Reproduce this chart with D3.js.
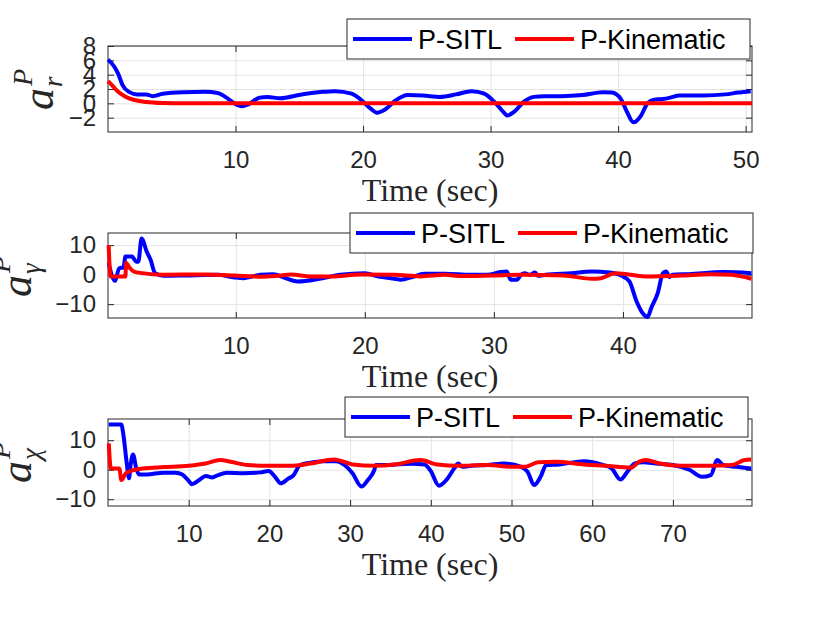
<!DOCTYPE html>
<html>
<head>
<meta charset="utf-8">
<script src="https://cdn.jsdelivr.net/npm/d3@7/dist/d3.min.js"></script>
<style>
  body { margin: 0; background: #fff; }
</style>
</head>
<body>
<script>
// ---- data: [time (sec), value] ----
const arSitl = [[0,6.1],[0.5,5.1],[0.8,4.1],[1.15,2.5],[1.65,1.6],[2.3,1.25],[3,1.25],[3.5,1.0],[4.3,1.35],[5.9,1.55],[7.6,1.6],[8.6,1.45],[9.2,0.9],[9.9,0],[10.5,-0.4],[11,-0.15],[11.9,0.8],[12.5,0.9],[13.5,0.7],[15.1,1.2],[16.8,1.6],[17.8,1.7],[19.1,1.35],[19.9,0.4],[20.6,-0.75],[21.1,-1.3],[21.7,-0.9],[22.55,0.4],[23.5,1.15],[24.7,1.1],[26,0.9],[27.3,1.25],[28.5,1.7],[29.5,1.35],[30.3,0.2],[31,-1.2],[31.3,-1.7],[31.9,-1.1],[32.6,0.2],[33.4,0.9],[34.2,1.0],[35.5,1.0],[37.2,1.15],[38.8,1.55],[39.5,1.5],[40.2,0.65],[40.7,-1.2],[41.2,-2.65],[41.8,-1.7],[42.3,0],[42.8,0.5],[43.5,0.6],[44.1,0.8],[44.8,1.1],[46.7,1.1],[48.4,1.25],[49.4,1.5],[50.4,1.7]];
const arKin = [[0,3.1],[0.33,2.5],[0.8,1.6],[1.3,1.0],[2,0.5],[3,0.2],[4.3,0.05],[5.9,0],[20,0],[35,0],[50.5,0]];

const agSitl = [[0.15,3.9],[0.65,-2.1],[0.97,2.2],[1.3,2.4],[1.45,6.1],[1.95,6.1],[2.3,4.4],[2.45,4.4],[2.7,12.2],[3.1,7.8],[3.4,5],[3.75,0.5],[4.4,-0.4],[6,-0.3],[8.6,-0.05],[9.9,-0.95],[10.6,-1.2],[11.9,-0.05],[12.9,0.15],[13.85,-1.2],[14.8,-2.3],[16.5,-1.4],[18.1,-0.05],[20,0.5],[21,-0.6],[22.3,-1.4],[22.8,-1.7],[23.6,-0.95],[24.6,0.3],[26.2,0.3],[28.2,-0.05],[29.5,-0.05],[30.5,0.85],[31,1.05],[31.3,-1.7],[31.8,-1.7],[32.1,-0.05],[32.4,0.5],[32.75,-0.05],[33.2,0.7],[33.4,-0.4],[34,-0.05],[36,0.5],[37.6,1.05],[38.95,0.7],[39.9,-0.4],[40.5,-2.3],[41.05,-9],[41.55,-13.2],[41.9,-14.4],[42.2,-11.2],[42.7,-6.2],[43.1,0.5],[43.35,1.05],[43.6,-0.8],[43.85,-0.05],[45.1,0.15],[47.75,0.85],[49.95,0.5]];
const agKin = [[0.15,10],[0.3,-0.6],[1.3,-0.6],[1.45,-0.6],[1.5,3.9],[1.8,2.2],[2.1,1.05],[2.75,0.5],[4.4,-0.05],[7.65,0.05],[9.9,-0.3],[11.9,-0.7],[13.2,-0.4],[14.3,0.05],[15.8,-0.6],[17.4,-0.6],[19.7,0.05],[22.3,-0.05],[24.3,-0.6],[26.2,-0.05],[27.5,-0.5],[29.8,-0.3],[32.1,-0.05],[35.4,-0.3],[37.6,-1.4],[38.3,-1.2],[39.4,0.5],[40.6,-0.05],[41.9,-0.6],[44.5,-0.3],[46.8,0.15],[48.4,-0.05],[49.95,-1.4]];

const axSitl = [[0.1,15.3],[1.65,15.3],[1.9,12],[2.3,2.7],[2.6,-2.9],[2.8,1.6],[3.1,5.2],[3.5,0.45],[3.85,-1.6],[4.8,-1.6],[6.9,-1.0],[8.4,-1.0],[9.2,-1.6],[10,-3.8],[10.4,-4.9],[11.3,-3.5],[12.1,-2.1],[12.9,-2.6],[13.65,-1.8],[14.7,-1.0],[16.8,-1.2],[18.9,-0.9],[19.9,-0.45],[20.7,-2.4],[21.4,-4.6],[22.3,-3.1],[23,-1.8],[23.8,1.6],[25.1,2.4],[26.7,2.9],[28.3,2.9],[29.3,1.6],[30.3,-1.2],[31.4,-5.7],[32.2,-3.5],[33,-0.1],[33.2,1.6],[34.5,1.6],[35.6,1.8],[37.6,2.0],[39.2,1.8],[40,-0.45],[41,-5.4],[42.1,-2.9],[42.9,0.45],[43.4,2.1],[43.9,1.0],[45,1.35],[47,1.6],[49.1,2.1],[51.2,1.0],[52,-0.7],[52.8,-5.2],[53.6,-2.4],[54.3,1.6],[55.9,1.8],[59,2.9],[61.1,1.8],[62.4,0.45],[63.5,-3.3],[64.5,-0.1],[65.3,2.1],[66.3,2.5],[67.9,2.1],[70,1.6],[72.1,-0.1],[73.6,-2.4],[74.7,-1.8],[75.5,3.3],[76.2,1.6],[77.8,1.0],[79.7,0.45]];
const axKin = [[0.1,8.9],[0.35,0.45],[1.4,0.45],[1.65,-3.5],[2.2,-1.2],[3.2,-0.1],[4.3,0.45],[6.9,0.9],[10,1.35],[12.1,2.1],[13.9,3.3],[15.2,2.7],[17.3,1.6],[19.9,1.35],[23,1.35],[25.1,2.1],[28,3.5],[30.3,1.8],[33,1.35],[35.6,1.8],[38.7,3.3],[40.8,1.8],[43.4,1.35],[47,1.6],[50.2,1.0],[51.7,1.0],[53.3,2.5],[55.4,2.7],[59,1.8],[61.6,1.35],[64.8,0.7],[65.8,2.7],[66.6,3.3],[68.4,2.1],[71,1.35],[74.7,1.35],[77.3,1.6],[78.9,3.3],[79.7,3.5]];

const xTicksR = [10, 20, 30, 40, 50];
const yTicksR = [-2, 0, 2, 4, 6, 8];
const xTicksG = [10, 20, 30, 40];
const yTicksG = [-10, 0, 10];
const xTicksX = [10, 20, 30, 40, 50, 60, 70];
const yTicksX = [-10, 0, 10];
const seriesNames = ["P-SITL", "P-Kinematic"];
const seriesColors = ["#0000ff", "#ff0000"];
const subscripts = ["r", "\u03b3", "\u03c7"];

const W = 830, H = 623;
const left = 108, right = 752;

const panels = [
  { sitl: arSitl, kin: arKin, xDom: [0, 50.5], yDom: [-4, 8], xTicks: xTicksR, yTicks: yTicksR,
    sub: subscripts[0], top: 46, bottom: 132, legX: 347, legY: 19, labX: 53, labY: 110 },
  { sitl: agSitl, kin: agKin, xDom: [0.1, 50], yDom: [-14.7, 14.1], xTicks: xTicksG, yTicks: yTicksG,
    sub: subscripts[1], top: 233, bottom: 318, legX: 350, legY: 213, labX: 31, labY: 297 },
  { sitl: axSitl, kin: axKin, xDom: [0, 79.8], yDom: [-12.3, 17.2], xTicks: xTicksX, yTicks: yTicksX,
    sub: subscripts[2], top: 419, bottom: 506, legX: 345, legY: 397, labX: 31, labY: 483 }
];

const svg = d3.select("body").append("svg")
    .attr("width", W)
    .attr("height", H)
    .style("display", "block");

const sans = "'Liberation Sans', Arial, Helvetica, sans-serif";
const serif = "'Liberation Serif', 'Times New Roman', serif";
const axisColor = "#262626";

panels.forEach(p => {
  const h = p.bottom - p.top, w = right - left;
  const x = d3.scaleLinear().domain(p.xDom).range([0, w]);
  const y = d3.scaleLinear().domain(p.yDom).range([h, 0]);

  const g = svg.append("g").attr("transform", `translate(${left},${p.top})`);

  // grid
  g.append("g")
      .attr("transform", `translate(0,${h})`)
      .call(d3.axisBottom(x).tickValues(p.xTicks).tickSize(-h).tickFormat(""))
      .call(s => s.select(".domain").remove())
      .call(s => s.selectAll("line").attr("stroke", "#e3e3e3"));
  g.append("g")
      .call(d3.axisLeft(y).tickValues(p.yTicks).tickSize(-w).tickFormat(""))
      .call(s => s.select(".domain").remove())
      .call(s => s.selectAll("line").attr("stroke", "#e3e3e3"));

  // axes with inward ticks
  const styleAxis = s => {
    s.select(".domain").remove();
    s.selectAll("line").attr("stroke", axisColor);
    s.selectAll("text").attr("fill", axisColor).style("font-family", sans).style("font-size", "24px");
  };
  g.append("g")
      .attr("transform", `translate(0,${h})`)
      .call(d3.axisBottom(x).tickValues(p.xTicks).tickSize(-6).tickPadding(19))
      .call(styleAxis);
  g.append("g")
      .call(d3.axisTop(x).tickValues(p.xTicks).tickSize(-6).tickFormat(""))
      .call(styleAxis);
  g.append("g")
      .call(d3.axisLeft(y).tickValues(p.yTicks).tickSize(-6).tickPadding(12))
      .call(styleAxis);
  g.append("g")
      .attr("transform", `translate(${w},0)`)
      .call(d3.axisRight(y).tickValues(p.yTicks).tickSize(-6).tickFormat(""))
      .call(styleAxis);

  g.append("rect")
      .attr("width", w).attr("height", h)
      .attr("fill", "none").attr("stroke", axisColor).attr("stroke-width", 1);

  // series
  const line = d3.line()
      .x(d => x(d[0]))
      .y(d => y(d[1]))
      .curve(d3.curveMonotoneX);

  [p.sitl, p.kin].forEach((data, i) => {
    g.append("path")
        .datum(data)
        .attr("fill", "none")
        .attr("stroke", seriesColors[i])
        .attr("stroke-width", 4)
        .attr("stroke-linejoin", "round")
        .attr("d", line);
  });

  // x label
  svg.append("text")
      .attr("x", left + w / 2)
      .attr("y", p.bottom + 69)
      .attr("text-anchor", "middle")
      .style("font-family", serif)
      .style("font-size", "32px")
      .attr("fill", axisColor)
      .text("Time (sec)");

  // y label: a with superscript P and subscript
  const lab = svg.append("g")
      .attr("transform", `translate(${p.labX},${p.labY}) rotate(-90)`)
      .attr("fill", axisColor)
      .style("font-family", serif)
      .style("font-style", "italic");
  const a = lab.append("text").style("font-size", "44px").text("a");
  const aw = a.node().getComputedTextLength();
  lab.append("text").attr("x", aw + 1).attr("y", 9).style("font-size", "27px").text(p.sub);
  lab.append("text").attr("x", aw + 2).attr("y", -21).style("font-size", "28px").text("P");

  // legend
  const leg = svg.append("g").attr("transform", `translate(${p.legX},${p.legY})`);
  leg.append("rect")
      .attr("width", 403).attr("height", 40)
      .attr("fill", "#fff").attr("stroke", axisColor).attr("stroke-width", 1);
  const offs = [6, 168];
  seriesNames.forEach((name, i) => {
    leg.append("line")
        .attr("x1", offs[i]).attr("x2", offs[i] + 59)
        .attr("y1", 20).attr("y2", 20)
        .attr("stroke", seriesColors[i]).attr("stroke-width", 4);
    leg.append("text")
        .attr("x", offs[i] + 65).attr("y", 30)
        .style("font-family", sans).style("font-size", "27px")
        .attr("fill", "#000")
        .text(name);
  });
});
</script>
</body>
</html>
